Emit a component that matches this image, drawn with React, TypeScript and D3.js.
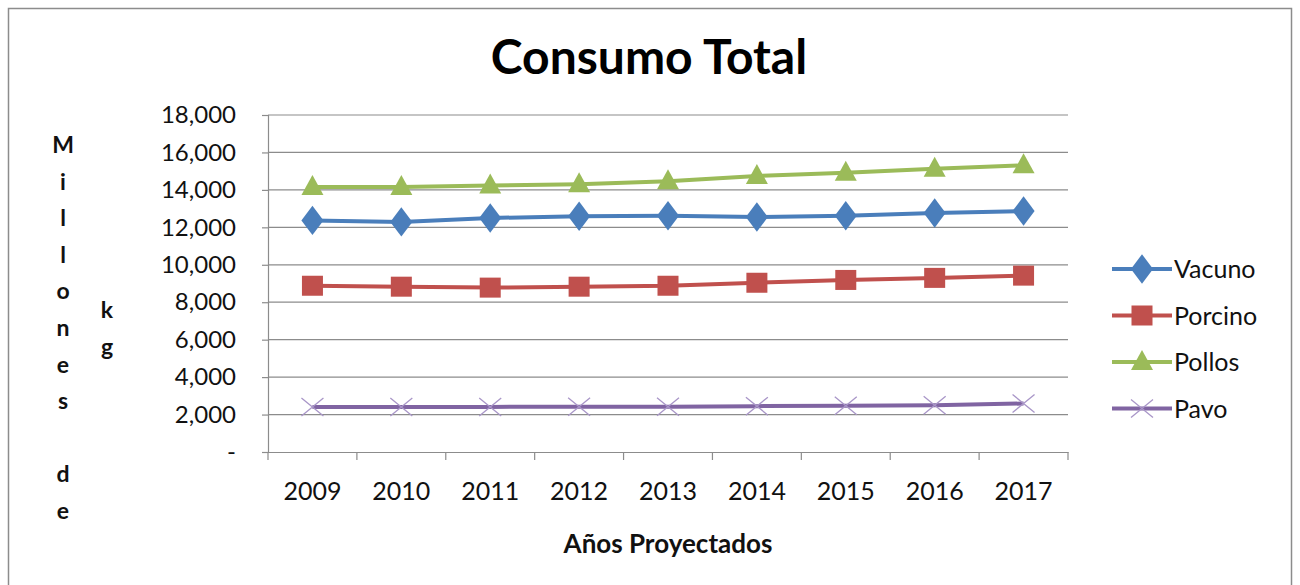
import { useEffect, useRef } from 'react';
import * as d3 from 'd3';

const years = ['2009', '2010', '2011', '2012', '2013', '2014', '2015', '2016', '2017'];
const vacuno = [12370, 12290, 12500, 12590, 12620, 12550, 12620, 12770, 12870];
const porcino = [8880, 8830, 8780, 8830, 8880, 9040, 9190, 9300, 9420];
const pollos = [14150, 14150, 14230, 14300, 14460, 14740, 14920, 15130, 15310];
const pavo = [2410, 2410, 2410, 2420, 2420, 2450, 2470, 2500, 2590];
const yTicks = [0, 2000, 4000, 6000, 8000, 10000, 12000, 14000, 16000, 18000];

const series = [
  { name: 'Vacuno', values: vacuno, color: '#4A7EBB', marker: 'diamond' },
  { name: 'Porcino', values: porcino, color: '#C0504D', marker: 'square' },
  { name: 'Pollos', values: pollos, color: '#9BBB59', marker: 'triangle' },
  { name: 'Pavo', values: pavo, color: '#8064A2', marker: 'x' },
];

const font = 'Lato, "Open Sans", sans-serif';

function drawMarker(g: d3.Selection<SVGGElement, unknown, null, undefined>, type: string, x: number, y: number, color: string) {
  if (type === 'diamond') {
    g.append('path')
      .attr('d', d3.symbol().type(d3.symbolDiamond).size(250)())
      .attr('transform', `translate(${x},${y}) scale(1.3,1)`)
      .attr('fill', color);
  } else if (type === 'square') {
    g.append('rect')
      .attr('x', x - 10.5).attr('y', y - 10)
      .attr('width', 21).attr('height', 20)
      .attr('fill', color);
  } else if (type === 'triangle') {
    g.append('path')
      .attr('d', `M${x},${y - 12} L${x + 11},${y + 8} L${x - 11},${y + 8} Z`)
      .attr('fill', color);
  } else {
    g.append('path')
      .attr('d', `M${x - 11},${y - 9} L${x + 11},${y + 9} M${x - 11},${y + 9} L${x + 11},${y - 9}`)
      .attr('stroke', '#A996C8')
      .attr('stroke-width', 1.3)
      .attr('fill', 'none');
  }
}

export default function App() {
  const svgRef = useRef<SVGSVGElement>(null);

  useEffect(() => {
    if (!svgRef.current) return;
    const svg = d3.select(svgRef.current);
    svg.selectAll('*').remove();

    const left = 268, right = 1068, top = 115, bottom = 452;

    // frame
    svg.append('rect')
      .attr('x', 8.5).attr('y', 8.5)
      .attr('width', 1283).attr('height', 600)
      .attr('fill', 'white')
      .attr('stroke', '#8c8c8c')
      .attr('stroke-width', 1.5);

    const x = d3.scaleBand<string>().domain(years).range([left, right]);
    const y = d3.scaleLinear().domain([0, 18000]).range([bottom, top]);

    const g = svg.append('g');

    // gridlines
    g.selectAll('.grid')
      .data(yTicks.slice(1))
      .enter().append('line')
      .attr('x1', left).attr('x2', right)
      .attr('y1', d => y(d)).attr('y2', d => y(d))
      .attr('stroke', '#8c8c8c')
      .attr('stroke-width', 1.2);

    // y axis
    const yAxis = g.append('g')
      .attr('transform', `translate(${left},0)`)
      .call(d3.axisLeft(y).tickValues(yTicks).tickSize(6).tickPadding(26)
        .tickFormat(d => (+d === 0 ? '-' : d3.format(',')(+d))));
    yAxis.select('.domain').attr('stroke', '#8c8c8c').attr('stroke-width', 1.2);
    yAxis.selectAll('.tick line').attr('stroke', '#8c8c8c').attr('stroke-width', 1.2);
    yAxis.selectAll('.tick text')
      .attr('font-family', font).attr('font-size', 24).attr('fill', '#111');

    // x axis
    const xAxis = g.append('g')
      .attr('transform', `translate(0,${bottom})`)
      .call(d3.axisBottom(x).tickSize(0).tickPadding(30));
    xAxis.select('.domain').attr('stroke', '#8c8c8c').attr('stroke-width', 1.2);
    xAxis.selectAll('.tick text')
      .attr('font-family', font).attr('font-size', 25).attr('fill', '#111');
    const bounds = [...years.map(d => x(d) as number), right];
    g.selectAll('.xtick')
      .data(bounds)
      .enter().append('line')
      .attr('x1', d => d).attr('x2', d => d)
      .attr('y1', bottom).attr('y2', bottom + 8)
      .attr('stroke', '#8c8c8c')
      .attr('stroke-width', 1.2);

    const cx = (d: string) => (x(d) as number) + x.bandwidth() / 2;

    // lines
    series.forEach(s => {
      const line = d3.line<number>()
        .x((_, i) => cx(years[i]))
        .y(d => y(d));
      g.append('path')
        .datum(s.values)
        .attr('fill', 'none')
        .attr('stroke', s.color)
        .attr('stroke-width', 4)
        .attr('d', line);
      s.values.forEach((v, i) => drawMarker(g, s.marker, cx(years[i]), y(v), s.color));
    });

    // title
    svg.append('text')
      .attr('x', 649).attr('y', 74)
      .attr('text-anchor', 'middle')
      .attr('font-family', font).attr('font-weight', 'bold').attr('font-size', 48)
      .attr('fill', '#000')
      .text('Consumo Total');

    // x title
    svg.append('text')
      .attr('x', 668).attr('y', 553)
      .attr('text-anchor', 'middle')
      .attr('font-family', font).attr('font-weight', 'bold').attr('font-size', 26)
      .attr('fill', '#111')
      .text('Años Proyectados');

    // y title, stacked letters
    const col1 = 'Millones de'.split('');
    svg.append('g').selectAll('text')
      .data(col1)
      .enter().append('text')
      .attr('x', 63)
      .attr('y', (_, i) => 153 + i * 36.6)
      .attr('text-anchor', 'middle')
      .attr('font-family', font).attr('font-weight', 'bold').attr('font-size', 23)
      .attr('fill', '#111')
      .text(d => d);
    svg.append('g').selectAll('text')
      .data(['k', 'g'])
      .enter().append('text')
      .attr('x', 107)
      .attr('y', (_, i) => 318 + i * 37)
      .attr('text-anchor', 'middle')
      .attr('font-family', font).attr('font-weight', 'bold').attr('font-size', 23)
      .attr('fill', '#111')
      .text(d => d);

    // legend
    const lg = svg.append('g');
    series.forEach((s, i) => {
      const ly = 269 + i * 46.5;
      lg.append('line')
        .attr('x1', 1112).attr('x2', 1172)
        .attr('y1', ly).attr('y2', ly)
        .attr('stroke', s.color).attr('stroke-width', 4);
      drawMarker(lg, s.marker, 1142, ly, s.color);
      lg.append('text')
        .attr('x', 1174).attr('y', ly + 9)
        .attr('font-family', font).attr('font-size', 25)
        .attr('fill', '#111')
        .text(s.name);
    });
  }, []);

  return (
    <svg
      ref={svgRef}
      width={1300}
      height={585}
      style={{ position: 'absolute', left: 0, top: 0, background: 'white' }}
    />
  );
}
